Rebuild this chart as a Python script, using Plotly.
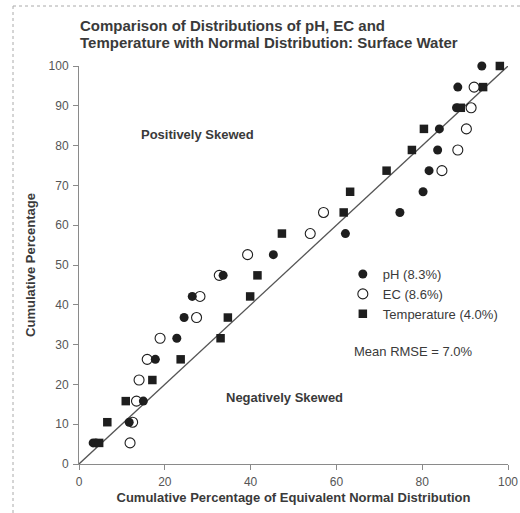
import plotly.graph_objects as go

# Data (cumulative % of equivalent normal distribution vs cumulative %)
ph_x = [3.3, 3.9, 11.7, 15.0, 17.8, 22.8, 24.5, 26.4, 33.6, 45.3, 62.1, 74.8, 80.2, 81.6, 83.6, 84.0, 88.0, 88.3, 93.9]
ph_y = [5.3, 5.3, 10.5, 15.8, 26.3, 31.6, 36.8, 42.1, 47.4, 52.6, 57.9, 63.2, 68.4, 73.7, 78.9, 84.2, 89.5, 94.7, 100.0]

ec_x = [11.9, 12.5, 13.4, 14.0, 15.9, 18.9, 27.4, 28.2, 32.7, 39.3, 53.9, 57.0, 84.6, 88.3, 90.3, 91.4, 92.1]
ec_y = [5.3, 10.5, 15.8, 21.1, 26.3, 31.6, 36.8, 42.1, 47.4, 52.6, 57.9, 63.2, 73.7, 78.9, 84.2, 89.5, 94.7]

temp_x = [4.7, 6.6, 10.9, 17.1, 23.7, 33.0, 34.7, 39.9, 41.6, 47.3, 61.7, 63.2, 71.7, 77.6, 80.4, 89.0, 94.2, 98.1]
temp_y = [5.3, 10.5, 15.8, 21.1, 26.3, 31.6, 36.8, 42.1, 47.4, 57.9, 63.2, 68.4, 73.7, 78.9, 84.2, 89.5, 94.7, 100.0]

line_x = [0, 100]
line_y = [0, 100]

series_names = ["pH (8.3%)", "EC (8.6%)", "Temperature (4.0%)"]
title_lines = ["Comparison of Distributions of pH, EC and",
               "Temperature with Normal Distribution: Surface Water"]
tick_vals_x = [0, 20, 40, 60, 80, 100]
tick_vals_y = [0, 10, 20, 30, 40, 50, 60, 70, 80, 90, 100]

INK = "#1e1e1e"
TXT = "#3a3a3a"
FONT = "Liberation Sans, Arial, sans-serif"

fig = go.Figure()

fig.add_trace(go.Scatter(x=line_x, y=line_y, mode="lines",
                         line=dict(color="#555555", width=1.3),
                         showlegend=False, hoverinfo="skip", cliponaxis=False))

fig.add_trace(go.Scatter(x=ph_x, y=ph_y, mode="markers", name=series_names[0], cliponaxis=False,
                         marker=dict(symbol="circle", size=9, color=INK)))
fig.add_trace(go.Scatter(x=ec_x, y=ec_y, mode="markers", name=series_names[1], cliponaxis=False,
                         marker=dict(symbol="circle-open", size=10, color=INK,
                                     line=dict(width=1.1, color=INK))))
fig.add_trace(go.Scatter(x=temp_x, y=temp_y, mode="markers", name=series_names[2], cliponaxis=False,
                         marker=dict(symbol="square", size=8.5, color=INK)))

fig.update_layout(
    width=520, height=513,
    paper_bgcolor="white", plot_bgcolor="white",
    margin=dict(l=79, r=12, t=66, b=49, autoexpand=False),
    font=dict(family=FONT, color=TXT, size=12),
    title=dict(
        text=title_lines[0],
        x=80 / 520, xanchor="left", xref="container",
        y=1 - 26 / 513, yanchor="middle", yref="container", automargin=False,
        font=dict(family=FONT, size=15, color=TXT, weight="bold"),
    ),
    xaxis=dict(range=[0, 100], tickvals=tick_vals_x, showgrid=False, zeroline=False,
               showline=True, linecolor="#8a8a8a", linewidth=1, automargin=False,
               ticks="outside", ticklen=5, tickcolor="#8a8a8a", ticklabelstandoff=2,
               tickfont=dict(size=12, color="#555555"),
               title=dict(text="Cumulative Percentage of Equivalent Normal Distribution",
                          font=dict(size=13, color=TXT, weight="bold"), standoff=4)),
    yaxis=dict(range=[0, 100], tickvals=tick_vals_y, showgrid=False, zeroline=False,
               showline=True, linecolor="#8a8a8a", linewidth=1, automargin=False,
               ticks="outside", ticklen=5, tickcolor="#8a8a8a", ticklabelstandoff=2,
               tickfont=dict(size=12, color="#555555"),
               title=dict(text="Cumulative Percentage",
                          font=dict(size=13, color=TXT, weight="bold"), standoff=10)),
    legend=dict(x=0.615, y=0.515, xanchor="left", yanchor="top",
                bgcolor="rgba(0,0,0,0)", font=dict(size=13, color=TXT),
                itemwidth=30, tracegroupgap=0),
    annotations=[
        dict(x=(78 - 79) / 429, y=(464 - 43) / 398, xref="paper", yref="paper",
             xanchor="left", yanchor="middle", text="<b>" + title_lines[1] + "</b>",
             showarrow=False, font=dict(family=FONT, size=15, color=TXT)),
        dict(x=27.6, y=82.9, xref="x", yref="y", text="<b>Positively Skewed</b>",
             showarrow=False, font=dict(size=13, color=TXT)),
        dict(x=47.8, y=16.7, xref="x", yref="y", text="<b>Negatively Skewed</b>",
             showarrow=False, font=dict(size=13, color=TXT)),
        dict(x=78.0, y=28.2, xref="x", yref="y", text="Mean RMSE = 7.0%",
             showarrow=False, font=dict(size=13, color=TXT)),
    ],
    shapes=[
        dict(type="line", xref="paper", yref="paper",
             x0=(13 - 79) / 429, x1=(520 - 79) / 429,
             y0=(464 - 6) / 398, y1=(464 - 6) / 398,
             line=dict(color="#aaaaaa", width=1, dash="dot")),
        dict(type="line", xref="paper", yref="paper",
             x0=(13 - 79) / 429, x1=(13 - 79) / 429,
             y0=(464 - 6) / 398, y1=(464 - 513) / 398,
             line=dict(color="#aaaaaa", width=1, dash="dot")),
    ],
)

fig.write_html("out.html", config={"displayModeBar": False},
               post_script="document.body.style.margin='0px';document.body.style.overflow='hidden';")
